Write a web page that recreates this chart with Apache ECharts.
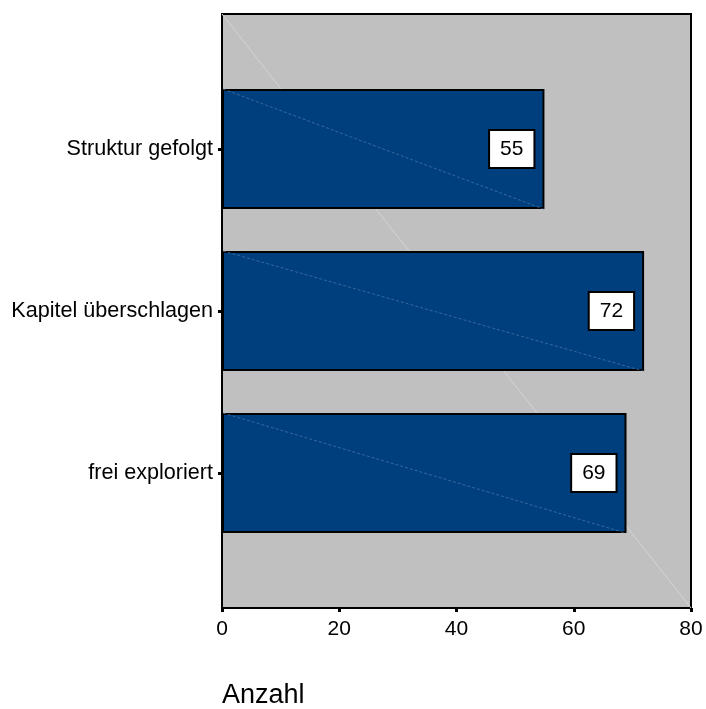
<!DOCTYPE html>
<html>
<head>
<meta charset="utf-8">
<script src="https://cdn.jsdelivr.net/npm/echarts@6/dist/echarts.min.js"></script>
<style>
  html, body { margin: 0; padding: 0; background: #fff; }
  #chart { width: 706px; height: 709px; }
</style>
</head>
<body>
<div id="chart"></div>
<script>
// Bar chart of navigation behaviour (counts)
const categories = ['Struktur gefolgt', 'Kapitel überschlagen', 'frei exploriert'];
const counts = [55, 72, 69];
const xTicks = { min: 0, max: 80, interval: 20 };
const axisTitle = 'Anzahl';

const FONT = 'Arial, "Liberation Sans", sans-serif';
const BAR_COLOR = '#003f7d';
const BAR_WIDTH = 120;

const chart = echarts.init(document.getElementById('chart'), null, { renderer: 'canvas' });

// light diagonal stroke across each bar, corner to corner
function renderDiagonal(params, api) {
  const cat = api.value(0);
  const val = api.value(1);
  const start = api.coord([0, cat]);
  const end = api.coord([val, cat]);
  const half = BAR_WIDTH / 2;
  return {
    type: 'line',
    shape: { x1: start[0] + 1, y1: start[1] - half, x2: end[0] - 1, y2: end[1] + half },
    style: { stroke: '#4f77ad', lineWidth: 1, lineDash: [3, 2], opacity: 0.7 },
    silent: true
  };
}

chart.setOption({
  animation: false,
  textStyle: { fontFamily: FONT },
  title: {
    text: axisTitle,
    left: 222,
    top: 682,
    padding: 0,
    textStyle: { fontFamily: FONT, fontSize: 27, fontWeight: 'normal', color: '#000' }
  },
  grid: [
    { left: 222, right: 15, top: 14, bottom: 101, show: true,
      backgroundColor: '#c0c0c0', borderColor: '#000', borderWidth: 2 },
    { left: 222, right: 15, top: 68, height: 486 }
  ],
  xAxis: [
    { type: 'value', gridIndex: 0, min: xTicks.min, max: xTicks.max, interval: xTicks.interval,
      axisLine: { show: true, lineStyle: { color: '#000', width: 2 } },
      axisTick: { show: true, length: 4, lineStyle: { color: '#000', width: 3 } },
      axisLabel: { color: '#000', fontSize: 21, fontFamily: FONT, margin: 11 },
      splitLine: { show: false } },
    { type: 'value', gridIndex: 1, min: xTicks.min, max: xTicks.max, show: false }
  ],
  yAxis: [
    { type: 'value', gridIndex: 0, min: 0, max: 1, show: false },
    { type: 'category', gridIndex: 1, data: categories, inverse: true,
      axisLine: { show: false },
      axisTick: { show: true, alignWithLabel: true, length: 4, lineStyle: { color: '#000', width: 3 } },
      axisLabel: { color: '#000', fontSize: 21.6, fontFamily: FONT, margin: 9 },
      splitLine: { show: false } }
  ],
  series: [
    { // corner-to-corner line across the plot background
      type: 'line', xAxisIndex: 0, yAxisIndex: 0, z: 1, silent: true,
      symbol: 'none', data: [[xTicks.min, 1], [xTicks.max, 0]],
      lineStyle: { color: '#d4d4d4', width: 1 } },
    { type: 'bar', xAxisIndex: 1, yAxisIndex: 1, z: 2,
      data: counts, barWidth: BAR_WIDTH,
      itemStyle: { color: BAR_COLOR, borderColor: '#000', borderWidth: 2 },
      label: {
        show: true, position: 'insideRight', distance: 11,
        color: '#000', fontSize: 21, fontFamily: FONT,
        backgroundColor: '#fff', borderColor: '#000', borderWidth: 2,
        padding: [8, 10, 7, 10]
      } },
    { type: 'custom', xAxisIndex: 1, yAxisIndex: 1, z: 3, silent: true,
      renderItem: renderDiagonal,
      encode: { x: 1, y: 0 },
      data: counts.map((v, i) => [i, v]) }
  ]
});
</script>
</body>
</html>
